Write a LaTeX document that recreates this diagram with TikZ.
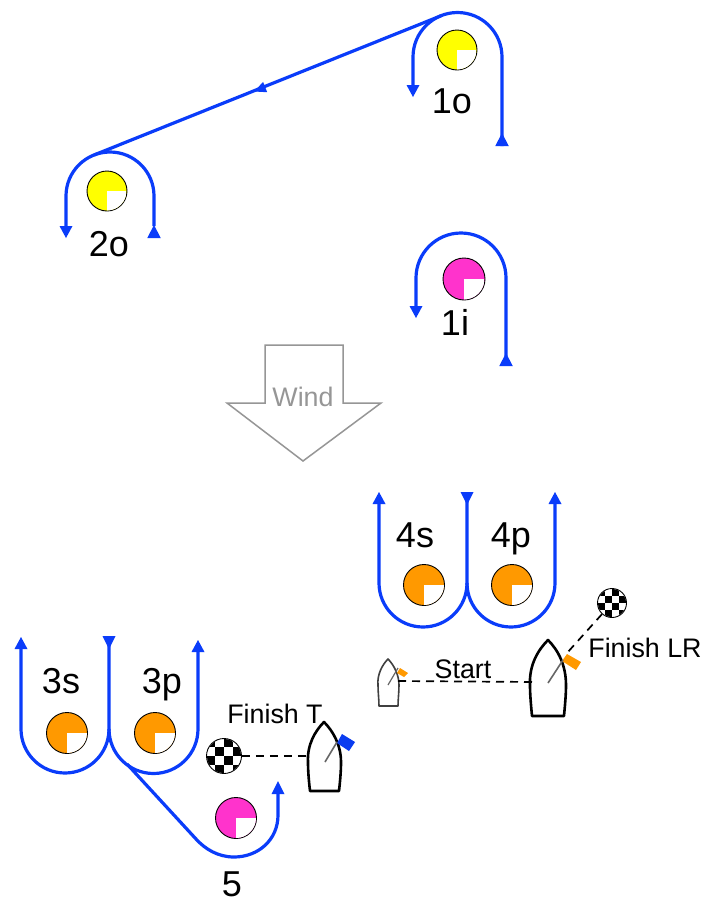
\documentclass[tikz,border=0pt]{standalone}
\usepackage{fontspec}
\setmainfont{Liberation Sans}
\definecolor{routeblue}{RGB}{10,60,250}
\definecolor{markyellow}{RGB}{255,255,0}
\definecolor{markpink}{RGB}{255,51,204}
\definecolor{markorange}{RGB}{255,153,0}
\definecolor{flagblue}{RGB}{10,60,240}
\definecolor{windgray}{RGB}{150,150,150}
\tikzset{
  route/.style={draw=routeblue,line width=3.2pt,line cap=butt},
  lab/.style={font=\fontsize{36}{36}\selectfont,inner sep=0pt,anchor=base},
  smalllab/.style={font=\fontsize{26.8}{27}\selectfont,inner sep=0pt,anchor=base},
  hull/.style={draw=black,fill=white,line width=2.6pt,line join=round},
  hullsmall/.style={draw=black!75,fill=white,line width=1.6pt,line join=round},
  mast/.style={draw=black!60,line width=1.6pt},
  finishline/.style={draw=black,line width=1.7pt,dash pattern=on 8pt off 6pt},
  disc/.style={circle,draw=black,line width=.9pt,inner sep=0pt},
}
% name, x, y, colour, radius
\newcommand{\roundmark}[5]{%
  \node[disc,fill=#4,minimum size=#5*2pt] (#1) at (#2,#3) {};
  \begin{scope}
    \clip (#2,#3) circle (#5-.5);
    \fill[white] (#2,#3) rectangle (#2+#5,#3+#5);
  \end{scope}
}
% name, x, y, radius, cell
\newcommand{\checker}[5]{%
  \node[disc,fill=white,minimum size=#4*2pt] (#1) at (#2,#3) {};
  \begin{scope}
    \clip (#2,#3) circle (#4-.5);
    \foreach \i in {-3,...,3}{\foreach \j in {-3,...,3}{%
      \pgfmathparse{int(mod(\i+\j+6,2))}%
      \ifnum\pgfmathresult=0
        \fill[black] ({#2+\i*#5},{#3+\j*#5}) rectangle ++(#5,#5);
      \fi}}
  \end{scope}
}
% tip x, y, visual angle, length, width
\newcommand{\arrowtip}[5]{%
  \fill[routeblue,shift={(#1,#2)},rotate=#3] (0pt,0pt) -- (-#4pt,-#5pt/2) -- (-#4pt,#5pt/2) -- cycle;
}
\begin{document}
\begin{tikzpicture}[x=1pt,y=-1pt]
\useasboundingbox (0,0) rectangle (717,900);
\fill[white] (0,0) rectangle (717,900);

% wind
\draw[windgray,line width=1.5pt,line join=miter,fill=white]
  (265,345) -- (343,345) -- (343,403) -- (381,403) -- (303,461) -- (227,403) -- (265,403) -- cycle;
\node[smalllab,text=windgray] (windlab) at (303,406) {Wind};

% marks
\roundmark{m1o}{457}{50}{markyellow}{20}
\roundmark{m2o}{107}{191}{markyellow}{20}
\roundmark{m1i}{464}{279}{markpink}{21}
\roundmark{m4s}{424}{585}{markorange}{20.5}
\roundmark{m4p}{512}{585}{markorange}{20.5}
\roundmark{m3s}{67}{733}{markorange}{20.5}
\roundmark{m3p}{155}{733}{markorange}{20.5}
\roundmark{m5}{236}{818}{markpink}{20.5}

% routes
\draw[route] (502,146) -- (502,57) arc[start angle=0,end angle=-180,radius=44.5] -- (413,86);
\arrowtip{413}{97}{-90}{12}{13}
\arrowtip{502}{133}{90}{13}{13.5}
\draw[route] (441,15.8) -- (94,155);
\draw[route] (154,226) -- (154,196) arc[start angle=0,end angle=-180,radius=44] -- (66,228);
\arrowtip{154}{225}{90}{13}{13.5}
\arrowtip{66}{238}{-90}{12}{13}
\arrowtip{254}{91.5}{201.6}{12}{11}
\draw[route] (506,356) -- (506,278) arc[start angle=0,end angle=-180,radius=45] -- (416,307);
\arrowtip{416}{318}{-90}{12}{13}
\arrowtip{506}{353}{90}{13}{13.5}

\draw[route] (379,503) -- (379,583) arc[start angle=180,end angle=0,radius=44] -- (467,500);
\draw[route] (467,583) arc[start angle=180,end angle=0,radius=44] -- (555,503);
\arrowtip{379}{492}{90}{12}{13}
\arrowtip{555}{492}{90}{12}{13}
\arrowtip{467}{505}{-90}{13}{13}

\draw[route] (21,648) -- (21,729) arc[start angle=180,end angle=0,radius=44] -- (109,645);
\draw[route] (109,729) arc[start angle=180,end angle=0,radius=44.5] -- (198,651);
\arrowtip{21}{637}{90}{12}{13}
\arrowtip{198}{640}{90}{12}{13}
\arrowtip{109}{649}{-90}{13}{13}
\draw[route] (127,764) -- (196,839) .. controls (205,849) and (218,857) .. (234,857)
  .. controls (258,857) and (278,840) .. (278,815) -- (278,793);
\arrowtip{278}{781}{90}{13}{13}

% boats
\coordinate (boatLR) at (535,682);
\coordinate (boatStart) at (398,681);
\coordinate (boatT) at (306,756);
\coordinate (flagLR) at (567,653);

\draw[hull] (548,640) .. controls (538,650) and (529,665) .. (530,685)
  .. controls (530,695) and (531,705) .. (532,716) -- (564,716)
  .. controls (565,705) and (566,695) .. (566,685) .. controls (566,665) and (558,650) .. (548,640) -- cycle;
\fill[markorange] (567,654) -- (581,662) -- (576,670) -- (562,661) -- cycle;
\draw[mast] (548,683) -- (563,660);

\draw[hullsmall] (388,659) .. controls (382,665) and (377,675) .. (378,685)
  .. controls (378,692) and (379,700) .. (379,706) -- (398,706)
  .. controls (398,700) and (399,692) .. (399,685) .. controls (399,675) and (394,665) .. (388,659) -- cycle;
\fill[markorange] (400,668) -- (408,673) -- (404,677) -- (397,673) -- cycle;
\draw[mast,line width=1.2pt] (388,685) -- (398,668);

\draw[hull] (324,722) .. controls (315,731) and (307,745) .. (308,762)
  .. controls (308,772) and (309,782) .. (310,791) -- (339,791)
  .. controls (340,782) and (341,772) .. (341,762) .. controls (341,745) and (333,731) .. (324,722) -- cycle;
\fill[flagblue] (342,734) -- (355,742) -- (349,751) -- (337,743) -- cycle;
\draw[mast] (325,762) -- (337,742);

% finish marks
\checker{chkT}{224}{756}{17.5}{8.8}
\checker{chkLR}{612}{603}{14.5}{7}

\draw[finishline] (chkT) -- (boatT);
\draw[finishline] (boatStart) -- (boatLR);
\draw[finishline] (chkLR) -- (flagLR);

% labels
\node[lab] (l1o) at (452,113) {1o};
\node[lab] (l2o) at (109,256) {2o};
\node[lab] (l1i) at (455,335) {1i};
\node[lab] (l4s) at (415,547) {4s};
\node[lab] (l4p) at (511,547) {4p};
\node[lab] (l3s) at (61,693) {3s};
\node[lab] (l3p) at (162,693) {3p};
\node[lab] (l5) at (232,896) {5};
\node[smalllab] (lstart) at (463,678) {Start};
\node[smalllab] (lfinlr) at (645,657) {Finish LR};
\node[smalllab] (lfint) at (275,723) {Finish T};
\end{tikzpicture}
\end{document}
